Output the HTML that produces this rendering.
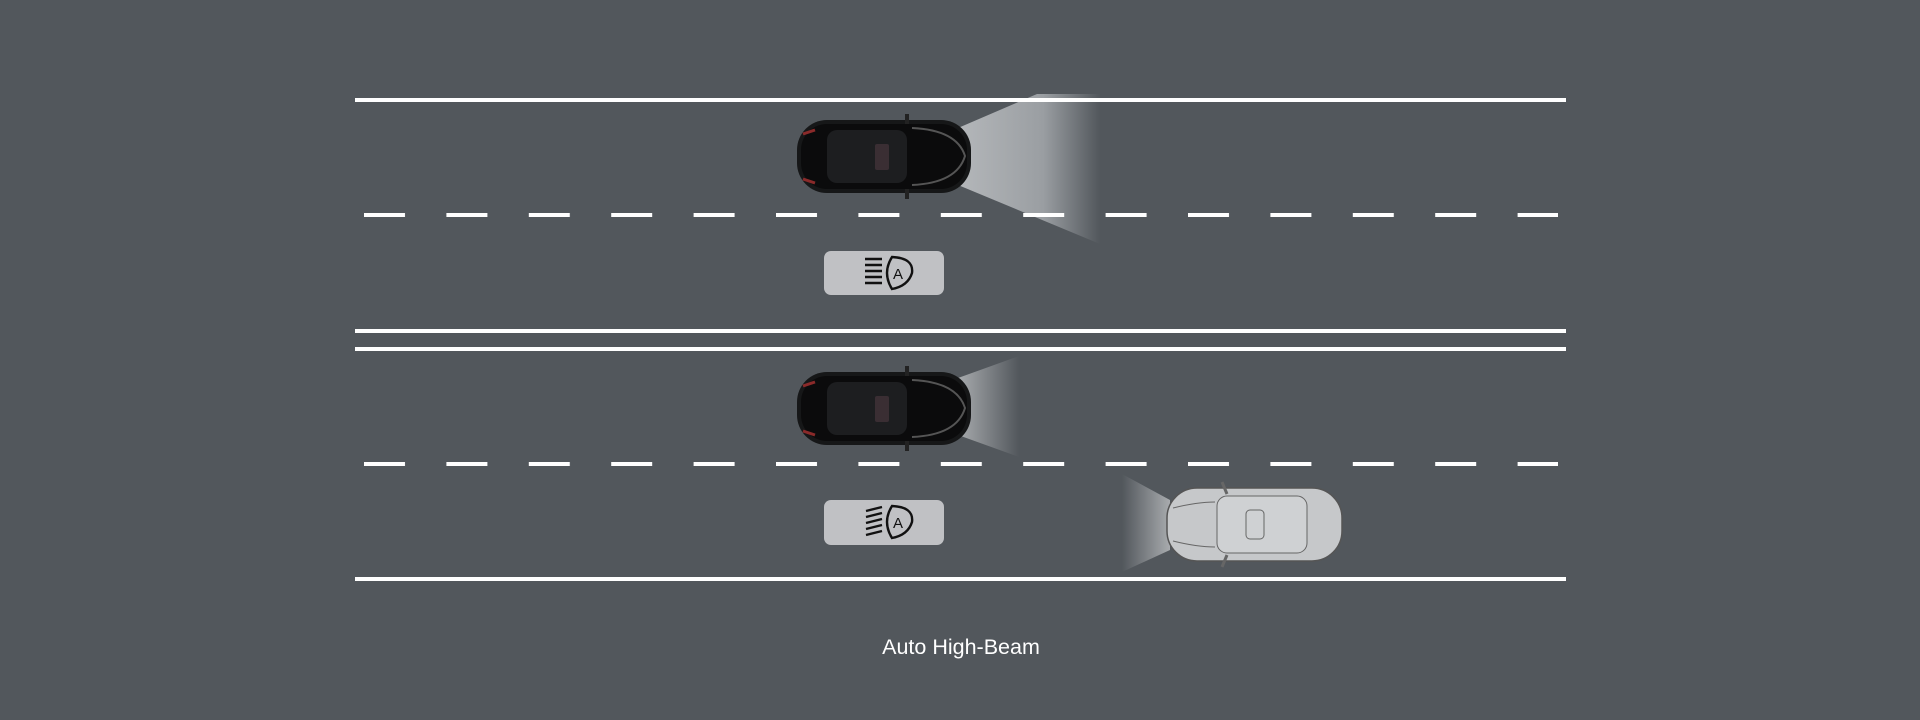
<!DOCTYPE html>
<html><head><meta charset="utf-8"><style>
html,body{margin:0;padding:0;background:#52575c;width:1920px;height:720px;overflow:hidden}
svg{position:absolute;left:0;top:0}
.t{position:absolute;left:0;width:1922px;top:635px;text-align:center;color:#fff;font:21.5px "Liberation Sans",sans-serif}
</style></head><body>
<svg width="1920" height="720" viewBox="0 0 1920 720">
<defs>
<linearGradient id="b1" x1="0" x2="1"><stop offset="0" stop-color="#b4b7ba"/><stop offset="0.6" stop-color="#9a9ea2"/><stop offset="1" stop-color="#52575c"/></linearGradient>
<linearGradient id="b2" x1="0" x2="1"><stop offset="0" stop-color="#a8abae"/><stop offset="1" stop-color="#52575c"/></linearGradient>
<linearGradient id="b3" x1="1" x2="0"><stop offset="0" stop-color="#a8abae"/><stop offset="1" stop-color="#52575c"/></linearGradient>
<pattern id="d" x="364" y="0" width="82.4" height="10" patternUnits="userSpaceOnUse"><rect width="41" height="10" fill="#fff"/></pattern>
<g id="car">
<rect x="0" y="0" width="174" height="73" rx="30" fill="#161718"/>
<rect x="4" y="4" width="166" height="65" rx="26" fill="#0b0b0c"/>
<rect x="30" y="10" width="80" height="53" rx="10" fill="#1d1e20"/>
<rect x="78" y="24" width="14" height="26" rx="2" fill="#3a2e33"/>
<path d="M115 8 Q160 10 168 36 Q160 63 115 65" fill="none" stroke="#555" stroke-width="2"/>
<path d="M6 14 L18 10 M6 59 L18 63" stroke="#8a2a2a" stroke-width="3"/>
<rect x="108" y="-6" width="4" height="10" fill="#222"/><rect x="108" y="69" width="4" height="10" fill="#222"/>
</g>
</defs>
<!-- beams -->
<polygon points="958,128 1037,94 1100,94 1100,244 958,185" fill="url(#b1)"/>
<polygon points="958,378 1019,356 1019,457 958,435" fill="url(#b2)"/>
<polygon points="1170,500 1122,474 1122,572 1170,550" fill="url(#b3)"/>
<rect x="355" y="98" width="1211" height="4" fill="#fff"/>
<rect x="355" y="329" width="1211" height="4" fill="#fff"/>
<rect x="355" y="347" width="1211" height="4" fill="#fff"/>
<rect x="355" y="577" width="1211" height="4" fill="#fff"/>
<rect x="364" y="213" width="1194" height="4" fill="url(#d)"/>
<rect x="364" y="462" width="1194" height="4" fill="url(#d)"/>
<!-- cars -->
<use href="#car" x="797" y="120"/>
<use href="#car" x="797" y="372"/>
<g transform="translate(1167,488)">
<rect x="0" y="0" width="175" height="73" rx="30" fill="#c6c8ca" stroke="#555" stroke-width="1.5"/>
<rect x="50" y="8" width="90" height="57" rx="10" fill="#cfd1d3" stroke="#666"/>
<rect x="79" y="22" width="18" height="29" rx="4" fill="none" stroke="#666"/>
<path d="M6 20 Q30 14 48 14 M6 53 Q30 59 48 59" fill="none" stroke="#666"/>
<path d="M55 -6 L60 6 M55 79 L60 67" stroke="#666" stroke-width="3"/>
</g>
<!-- icon boxes -->
<g><rect x="824" y="251" width="120" height="44" rx="7" fill="#c0c1c4"/>
<g stroke="#111" stroke-width="2.4" fill="none">
<path d="M865 259h17M865 265h17M865 271h17M865 277h17M865 283h17"/>
<path d="M892 257 Q914 258 912 273 Q908 286 892 289 Q882 273 892 257Z"/></g>
<text x="898" y="279" font-family="Liberation Sans,sans-serif" font-size="15" fill="#111" text-anchor="middle">A</text></g>
<g><rect x="824" y="500" width="120" height="45" rx="7" fill="#c0c1c4"/>
<g stroke="#111" stroke-width="2.4" fill="none">
<path d="M866 511l16-4M866 517l16-4M866 523l16-4M866 529l16-4M866 535l16-4"/>
<path d="M892 506 Q914 507 912 522 Q908 535 892 538 Q882 522 892 506Z"/></g>
<text x="898" y="528" font-family="Liberation Sans,sans-serif" font-size="15" fill="#111" text-anchor="middle">A</text></g>
</svg>
<div class="t">Auto High-Beam</div>
</body></html>
